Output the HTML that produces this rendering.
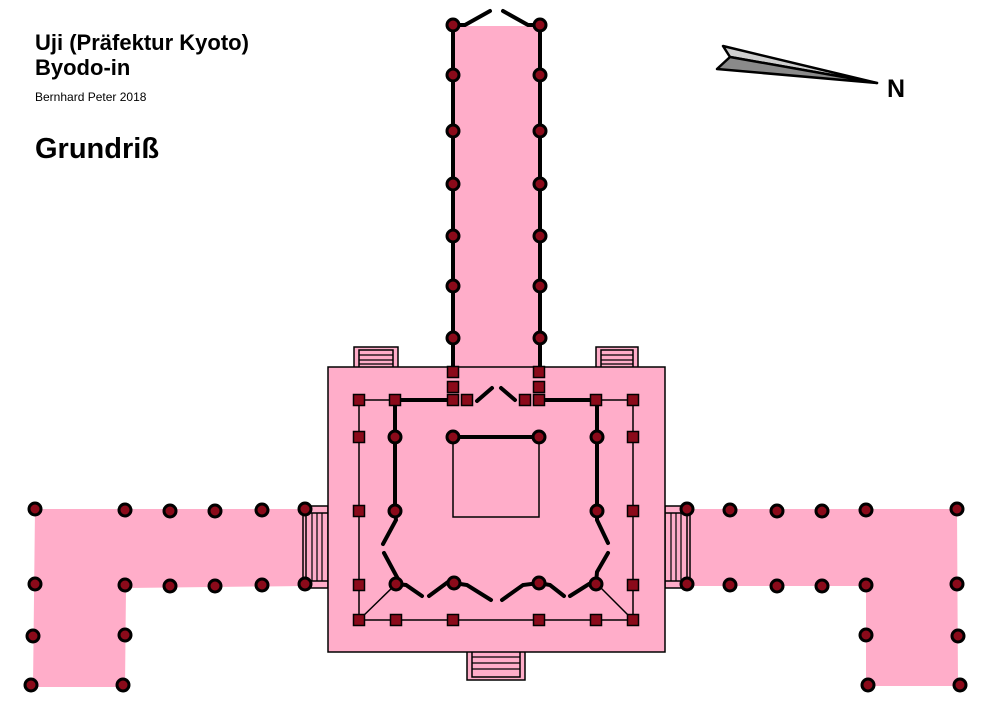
<!DOCTYPE html>
<html><head><meta charset="utf-8"><style>
html,body{margin:0;padding:0;background:#fff;}
svg{display:block;}
text{font-family:"Liberation Sans",Arial,sans-serif;font-weight:bold;fill:#000;}
</style></head><body>
<svg width="1000" height="718" viewBox="0 0 1000 718" xmlns="http://www.w3.org/2000/svg">
<text x="35" y="50" font-size="22">Uji (Präfektur Kyoto)</text>
<text x="35" y="75" font-size="22">Byodo-in</text>
<text x="35" y="101" font-size="12" style="font-weight:normal">Bernhard Peter 2018</text>
<text x="35" y="158" font-size="29">Grundriß</text>
<!-- compass -->
<polygon points="723,46 877,83 730,57" fill="#cfcfcf" stroke="#000" stroke-width="2.5" stroke-linejoin="round"/>
<polygon points="730,57 877,83 717,69" fill="#8a8a8a" stroke="#000" stroke-width="2.5" stroke-linejoin="round"/>
<text x="887" y="97" font-size="25">N</text>
<g fill="#ffadc9" stroke="none">
<rect x="453" y="26" width="87" height="345"/>
<polygon points="35,509 305,509 305,586 126,588 125,687 33,687"/>
<polygon points="687,509 957,509 958,686 866,686 866,586 687,586"/>
</g>
<!-- stairs -->
<g fill="#ffadc9" stroke="#000" stroke-width="1.5">
<rect x="303" y="506" width="25" height="82"/>
<rect x="306" y="513" width="22" height="68"/>
<rect x="665" y="506" width="25" height="82"/>
<rect x="665" y="513" width="22" height="68"/>
<rect x="354" y="347" width="44" height="22"/>
<rect x="359" y="350" width="34" height="19"/>
<rect x="596" y="347" width="42" height="22"/>
<rect x="601" y="350" width="32" height="19"/>
<rect x="467" y="650" width="58" height="30"/>
<rect x="472" y="650" width="48" height="27"/>
</g>
<g stroke="#000" stroke-width="1.2">
<line x1="312" y1="513" x2="312" y2="581"/><line x1="317" y1="513" x2="317" y2="581"/><line x1="322" y1="513" x2="322" y2="581"/>
<line x1="671" y1="513" x2="671" y2="581"/><line x1="676" y1="513" x2="676" y2="581"/><line x1="681" y1="513" x2="681" y2="581"/>
<line x1="359" y1="355" x2="393" y2="355"/><line x1="359" y1="360" x2="393" y2="360"/><line x1="359" y1="364" x2="393" y2="364"/>
<line x1="601" y1="355" x2="633" y2="355"/><line x1="601" y1="360" x2="633" y2="360"/><line x1="601" y1="364" x2="633" y2="364"/>
<line x1="472" y1="657" x2="520" y2="657"/><line x1="472" y1="663" x2="520" y2="663"/><line x1="472" y1="669" x2="520" y2="669"/>
</g>
<!-- main building -->
<rect x="328" y="367" width="337" height="285" fill="#ffadc9" stroke="#000" stroke-width="1.5"/>
<rect x="453" y="371" width="87" height="30" fill="#ffadc9"/>
<!-- thin lines -->
<g stroke="#000" stroke-width="1.5" fill="none">
<polyline points="395,400 359,400 359,620 633,620 633,400 596,400"/>
<line x1="359" y1="620" x2="396" y2="584"/>
<line x1="633" y1="620" x2="597" y2="584"/>
<rect x="453" y="437" width="86" height="80"/>
</g>
<!-- thick walls -->
<g stroke="#000" stroke-width="4" fill="none" stroke-linecap="round">
<line x1="453" y1="25" x2="453" y2="372"/>
<line x1="540" y1="25" x2="540" y2="372"/>
<polyline points="453,25 465,25 490,11"/>
<polyline points="503,11 528,25 540,25"/>
<line x1="395" y1="400" x2="453" y2="400"/>
<line x1="539" y1="400" x2="596" y2="400"/>
<line x1="477" y1="401" x2="492" y2="388"/>
<line x1="501" y1="388" x2="515" y2="400"/>
<polyline points="395,400 395,511 396,520 383,544"/>
<polyline points="384,553 398,579 396,584 406,585 422,596"/>
<polyline points="429,596 448,582 454,583 467,585 491,600"/>
<polyline points="502,600 523,585 539,583 550,585 564,596"/>
<polyline points="570,596 589,584 596,584 597,572 608,553"/>
<polyline points="608,543 597,520 597,511 597,400"/>
<line x1="453" y1="437" x2="539" y2="437"/>
</g>
<!-- squares -->
<g fill="#8b0a1a" stroke="#000" stroke-width="1.5">
<rect x="447.5" y="366.5" width="11" height="11"/><rect x="447.5" y="381.5" width="11" height="11"/><rect x="447.5" y="394.5" width="11" height="11"/>
<rect x="461.5" y="394.5" width="11" height="11"/><rect x="519.5" y="394.5" width="11" height="11"/>
<rect x="533.5" y="366.5" width="11" height="11"/><rect x="533.5" y="381.5" width="11" height="11"/><rect x="533.5" y="394.5" width="11" height="11"/>
<rect x="353.5" y="394.5" width="11" height="11"/><rect x="389.5" y="394.5" width="11" height="11"/><rect x="590.5" y="394.5" width="11" height="11"/><rect x="627.5" y="394.5" width="11" height="11"/>
<rect x="353.5" y="431.5" width="11" height="11"/><rect x="353.5" y="505.5" width="11" height="11"/><rect x="353.5" y="579.5" width="11" height="11"/><rect x="353.5" y="614.5" width="11" height="11"/>
<rect x="627.5" y="431.5" width="11" height="11"/><rect x="627.5" y="505.5" width="11" height="11"/><rect x="627.5" y="579.5" width="11" height="11"/><rect x="627.5" y="614.5" width="11" height="11"/>
<rect x="390.5" y="614.5" width="11" height="11"/><rect x="447.5" y="614.5" width="11" height="11"/><rect x="533.5" y="614.5" width="11" height="11"/><rect x="590.5" y="614.5" width="11" height="11"/>
</g>
<!-- circles -->
<g fill="#8b0a1a" stroke="#000" stroke-width="3">
<circle cx="453" cy="25" r="6"/><circle cx="540" cy="25" r="6"/>
<circle cx="453" cy="75" r="6"/><circle cx="540" cy="75" r="6"/>
<circle cx="453" cy="131" r="6"/><circle cx="540" cy="131" r="6"/>
<circle cx="453" cy="184" r="6"/><circle cx="540" cy="184" r="6"/>
<circle cx="453" cy="236" r="6"/><circle cx="540" cy="236" r="6"/>
<circle cx="453" cy="286" r="6"/><circle cx="540" cy="286" r="6"/>
<circle cx="453" cy="338" r="6"/><circle cx="540" cy="338" r="6"/>
<circle cx="395" cy="437" r="6"/><circle cx="395" cy="511" r="6"/><circle cx="396" cy="584" r="6"/>
<circle cx="597" cy="437" r="6"/><circle cx="597" cy="511" r="6"/><circle cx="596" cy="584" r="6"/>
<circle cx="454" cy="583" r="6"/><circle cx="539" cy="583" r="6"/>
<circle cx="453" cy="437" r="6"/><circle cx="539" cy="437" r="6"/>
<circle cx="35" cy="509" r="6"/><circle cx="125" cy="510" r="6"/><circle cx="170" cy="511" r="6"/><circle cx="215" cy="511" r="6"/><circle cx="262" cy="510" r="6"/><circle cx="305" cy="509" r="6"/>
<circle cx="35" cy="584" r="6"/><circle cx="125" cy="585" r="6"/><circle cx="170" cy="586" r="6"/><circle cx="215" cy="586" r="6"/><circle cx="262" cy="585" r="6"/><circle cx="305" cy="584" r="6"/>
<circle cx="33" cy="636" r="6"/><circle cx="125" cy="635" r="6"/><circle cx="31" cy="685" r="6"/><circle cx="123" cy="685" r="6"/>
<circle cx="687" cy="509" r="6"/><circle cx="730" cy="510" r="6"/><circle cx="777" cy="511" r="6"/><circle cx="822" cy="511" r="6"/><circle cx="866" cy="510" r="6"/><circle cx="957" cy="509" r="6"/>
<circle cx="687" cy="584" r="6"/><circle cx="730" cy="585" r="6"/><circle cx="777" cy="586" r="6"/><circle cx="822" cy="586" r="6"/><circle cx="866" cy="585" r="6"/><circle cx="957" cy="584" r="6"/>
<circle cx="866" cy="635" r="6"/><circle cx="958" cy="636" r="6"/><circle cx="868" cy="685" r="6"/><circle cx="960" cy="685" r="6"/>
</g>
</svg>
</body></html>
